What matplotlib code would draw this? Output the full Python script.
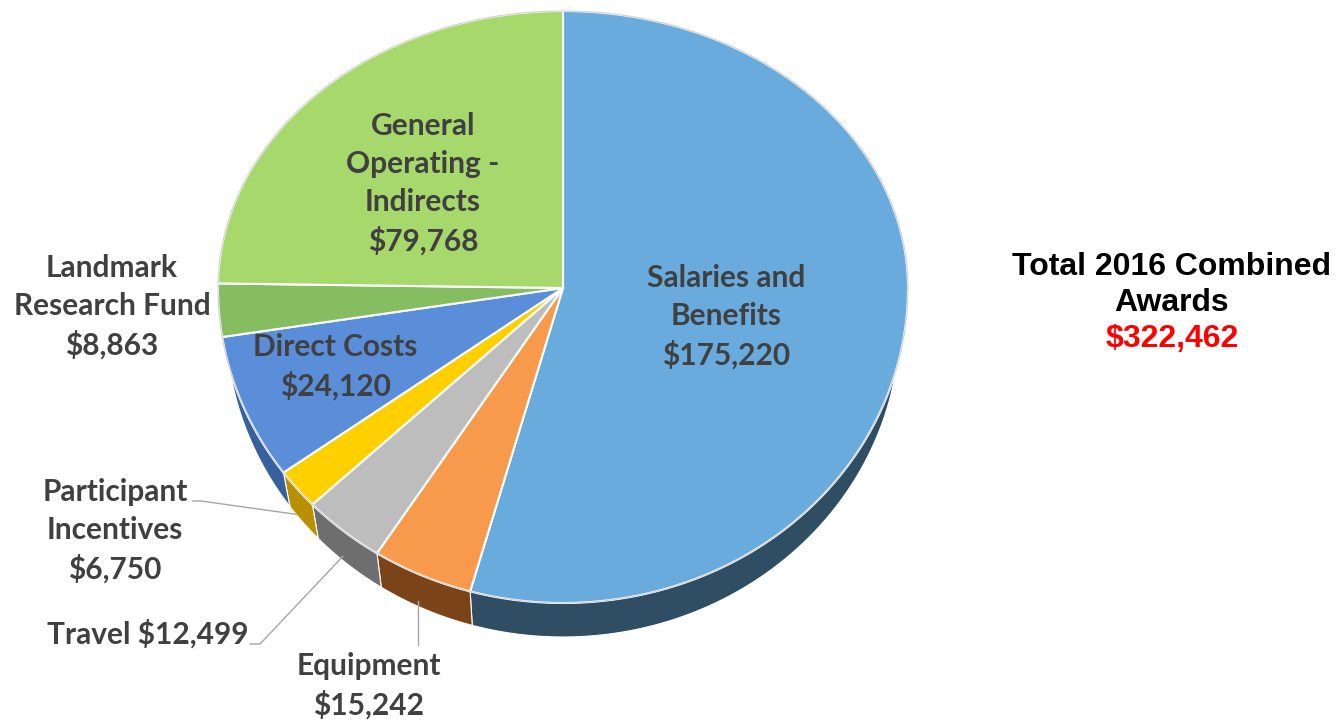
import numpy as np
import matplotlib
matplotlib.use("Agg")
import matplotlib.pyplot as plt
from matplotlib.patches import Polygon

# data, in drawing order (clockwise from 12 o'clock)
categories = ["Salaries and\nBenefits", "Equipment", "Travel", "Participant\nIncentives",
              "Direct Costs", "Landmark\nResearch Fund", "General\nOperating -\nIndirects"]
amounts = [175220, 15242, 12499, 6750, 24120, 8863, 79768]
total_title = "Total 2016 Combined\nAwards"
total_value = "$322,462"

TOP = ["#6AABDD", "#F89A4C", "#BDBDBD", "#FFD000", "#5B8ED8", "#86BD61", "#A7D86C"]
SIDE = ["#2F4D63", "#7A4418", "#6E6E6E", "#B89000", "#37609E", "#5A8A40", "#6F9A45"]
TXT = "#404040"

# pie geometry (pixel space)
CX, CY = 563, 288
RX, RY_TOP, RY_BOT = 345, 277, 315
DEPTH, RX_B = 34, 337


def rim(t, rx=RX, dy=0.0):
    t = np.radians(t)
    s = np.sin(t)
    ry = np.where(s > 0, RY_TOP, RY_BOT)
    return CX + rx * np.cos(t), CY - ry * s + dy


fig = plt.figure(figsize=(13.43, 7.22), dpi=100)
ax = fig.add_axes([0, 0, 1, 1])
ax.set_xlim(0, 1343)
ax.set_ylim(722, 0)
ax.axis("off")

total = sum(amounts)
bounds = 90 - 360 * np.concatenate([[0], np.cumsum(amounts)]) / total

# side walls (front half only)
for i in range(len(amounts)):
    a1, a2 = bounds[i], bounds[i + 1]
    hi, lo = min(a1, 0), max(a2, -180)
    if hi <= lo:
        continue
    t = np.linspace(hi, lo, 80)
    xt, yt = rim(t)
    xb, yb = rim(t[::-1], rx=RX_B, dy=DEPTH)
    pts = np.column_stack([np.r_[xt, xb], np.r_[yt, yb]])
    ax.add_patch(Polygon(pts, closed=True, fc=SIDE[i], ec="white", lw=0.8, zorder=1))

# top faces
for i in range(len(amounts)):
    t = np.linspace(bounds[i], bounds[i + 1], 200)
    x, y = rim(t)
    pts = np.column_stack([np.r_[CX, x], np.r_[CY, y]])
    ax.add_patch(Polygon(pts, closed=True, fc=TOP[i], ec="white", lw=1.5, zorder=2))

t = np.linspace(0, 360, 400)
x, y = rim(t)
ax.plot(x, y, color="#D0D0D0", lw=0.8, zorder=3)

labels = [f"{c}\n${v:,}" for c, v in zip(categories, amounts)]
labels[2] = f"{categories[2]} ${amounts[2]:,}"

font = dict(family="Lato", fontweight="bold", fontsize=21.5, color=TXT,
            ha="center", va="center", linespacing=1.43, zorder=5)

# inside labels
ax.text(726, 317, labels[0], **font)
ax.text(335, 367, labels[4], **font)
ax.text(423, 184, labels[6], **font)
# outside labels
ax.text(112, 307, labels[5], **font)
ax.text(115, 531, labels[3], **font)
ax.text(148, 634, labels[2], **font)
ax.text(369, 686, labels[1], **font)

# leader lines to the side walls
lead = dict(color="#A6A6A6", lw=1.0, zorder=4)
mid = (bounds[:-1] + bounds[1:]) / 2
for i, (x0, y0, x1) in {3: (193, 501, 201), 2: (250, 644, 260), 1: (418, 645, 418)}.items():
    xe, ye = rim(mid[i], dy=DEPTH * 0.75)
    if i == 1:
        ax.plot([x0, x0], [y0, ye], **lead)
    else:
        ax.plot([x0, x1, xe], [y0, y0, ye], **lead)

ax.text(1172, 285, total_title, family="Liberation Sans", fontweight="bold",
        fontsize=23, color="black", ha="center", va="center", linespacing=1.22)
ax.text(1172, 339, total_value, family="Liberation Sans", fontweight="bold",
        fontsize=23, color="#FF0000", ha="center", va="center")

fig.savefig("out.png", dpi=100)
